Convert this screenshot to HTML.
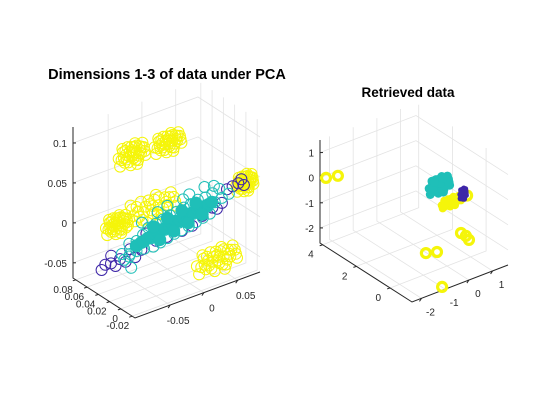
<!DOCTYPE html>
<html><head><meta charset="utf-8">
<style>
html,body{margin:0;padding:0;background:#fff;}
svg{display:block;font-family:"Liberation Sans",Arial,sans-serif;}
</style></head>
<body>
<svg id="fig" width="560" height="420" viewBox="0 0 560 420" xmlns="http://www.w3.org/2000/svg">
<rect width="560" height="420" fill="#fff"/>
<text x="167" y="79" text-anchor="middle" font-size="14.5" font-weight="bold" fill="#000">Dimensions 1-3 of data under PCA</text>
<text x="408" y="97" text-anchor="middle" font-size="13.5" font-weight="bold" fill="#000">Retrieved data</text>
<g id="left"></g>
<g id="right"></g>
</svg>
<script>
// ---- Left chart data ----
const leftXTicks = [-0.05, 0, 0.05];
const leftYTicks = [-0.02, 0, 0.02, 0.04, 0.06, 0.08];
const leftZTicks = [-0.05, 0, 0.05, 0.1];
const leftXLabels = ["-0.05", "0", "0.05"];
const leftYLabels = ["-0.02", "0", "0.02", "0.04", "0.06", "0.08"];
const leftZLabels = ["-0.05", "0", "0.05", "0.1"];
const leftCyan = [
[-0.049,0.062,-0.045],[-0.047,0.060,-0.052],[-0.042,0.057,-0.032],[-0.040,0.058,-0.046],
[-0.035,0.053,-0.035],[-0.037,0.050,-0.027],[-0.033,0.055,-0.043],
[-0.028,0.049,-0.030],[-0.030,0.047,-0.020],[-0.026,0.050,-0.040],
[-0.021,0.044,-0.026],[-0.023,0.046,-0.013],[-0.019,0.042,-0.036],
[-0.014,0.040,-0.021],[-0.016,0.041,-0.008],[-0.012,0.038,-0.031],
[-0.007,0.036,-0.016],[-0.009,0.037,-0.003],[-0.005,0.034,-0.026],
[0.000,0.032,-0.011],[-0.002,0.033,0.002],[0.002,0.030,-0.021],
[0.007,0.027,-0.007],[0.005,0.029,0.006],[0.009,0.026,-0.017],
[0.014,0.023,-0.002],[0.012,0.025,0.011],[0.016,0.021,-0.012],
[0.021,0.019,0.003],[0.019,0.021,0.015],[0.023,0.017,-0.007],
[0.028,0.015,0.008],[0.026,0.017,0.020],[0.030,0.013,-0.002],
[0.035,0.010,0.012],[0.033,0.012,0.023],[0.037,0.009,0.003],
[0.042,0.006,0.017],[0.040,0.008,0.028],[0.049,0.002,0.022],[0.047,0.004,0.033],
[0.056,-0.002,0.027],[-0.010,0.045,0.003],[0.015,0.030,0.018],[0.030,0.010,0.038],[-0.040,0.060,-0.050],
[-0.025,0.055,-0.010],[0.000,0.040,0.010],[0.020,0.025,0.025],[0.044,0.010,0.035],[-0.045,0.050,-0.058]
];
const leftCyanCore = [
[-0.035,0.053,-0.035],[-0.030,0.050,-0.031],[-0.028,0.049,-0.030],[-0.024,0.046,-0.026],[-0.021,0.044,-0.024],[-0.017,0.042,-0.021],
[-0.014,0.040,-0.019],[-0.010,0.038,-0.016],[-0.007,0.036,-0.014],[-0.003,0.034,-0.011],
[0.000,0.032,-0.009],[0.004,0.030,-0.006],[0.007,0.027,-0.005],[0.011,0.025,-0.002],
[0.014,0.023,0.000],[0.018,0.021,0.003],[0.021,0.019,0.005],[0.025,0.017,0.008],
[0.028,0.015,0.010],[0.032,0.012,0.012],[0.035,0.010,0.014],[0.039,0.008,0.017],
[-0.018,0.043,-0.012],[-0.004,0.035,-0.002],[0.010,0.026,0.007],[0.024,0.018,0.016],
[-0.012,0.039,-0.028],[0.002,0.031,-0.018],[0.016,0.022,-0.008],[0.030,0.014,0.002]
];
const leftBlue = [
[-0.060,0.068,-0.056],[-0.055,0.066,-0.060],[-0.050,0.064,-0.052],[-0.058,0.070,-0.048],
[-0.065,0.072,-0.058],[-0.045,0.060,-0.055],[-0.040,0.058,-0.040],[-0.035,0.055,-0.050],
[-0.030,0.050,-0.040],[-0.025,0.047,-0.020],[-0.015,0.042,-0.030],[-0.005,0.035,-0.025],
[0.010,0.026,-0.018],[0.020,0.020,-0.012],[0.030,0.014,0.000],[0.040,0.008,0.010],
[0.050,0.003,0.015],[0.055,0.000,0.032],[0.060,-0.004,0.036],[0.065,-0.008,0.040],
[0.070,-0.012,0.038],[0.068,-0.010,0.045],[-0.068,0.075,-0.065],[0.045,0.006,0.008]
];
const leftYellowCenters = [[-0.0605,0.03,0.097],[-0.0073,0.03,0.095],[-0.034,0.03,0.020],[-0.0828,0.03,0.016],[0.0318,-0.01,-0.045],[0.069,-0.015,0.042]];
const leftYellowSpread = [[0.022,0.015],[0.022,0.013],[0.044,0.018],[0.018,0.013],[0.033,0.016],[0.014,0.012]];
const jitterPattern = [[-0.9,0.1],[-0.6,0.5],[-0.5,-0.4],[-0.3,0.8],[-0.2,0.0],[-0.1,-0.8],[0.0,0.4],[0.1,-0.3],[0.2,0.9],[0.3,0.1],[0.4,-0.6],[0.5,0.5],[0.6,-0.1],[0.8,0.3],[0.9,-0.4],[-0.7,-0.1],[-0.4,0.2],[0.15,0.6],[0.35,-0.9],[-0.25,-0.5],[0.7,0.7],[-0.8,-0.6],[0.05,-0.05],[0.55,0.15],
[-0.65,0.8],[-0.35,-0.2],[0.25,-0.5],[0.65,0.4],[-0.05,0.7],[0.45,-0.25],[-0.55,0.0],[0.85,-0.05],[-0.15,0.35],[0.1,0.2],[-0.45,0.55],[0.3,0.65]];

// ---- Right chart data ----
const rightXTicks = [-2, -1, 0, 1];
const rightYTicks = [0, 2, 4];
const rightZTicks = [-2, -1, 0, 1];
const rightXLabels = ["-2", "-1", "0", "1"];
const rightYLabels = ["0", "2", "4"];
const rightZLabels = ["-2", "-1", "0", "1"];
const rightCyanCenter = [-0.32, 0, 0.72];
const rightCyanSpread = [0.48, 0.36];
const rightYellowBlobCenter = [0.18, 0, -0.12];
const rightYellowBlobSpread = [0.45, 0.2];
const rightBlueCenter = [0.68, 0, 0.02];
const rightBlueSpread = [0.14, 0.24];
const rightRings = [[-2.26,4,0.01],[-1.76,4,-0.09],[-0.89,0,-1.76],[-0.42,0,-1.89],[0.59,0,-1.5],[0.80,0,-1.69],[0.93,0,-1.9],[-1.06,-1.2,-2.53],[0.85,0,-0.1]];

const NS = "http://www.w3.org/2000/svg";
const BLUE = "#3e26a8", CYAN = "#1fbfb8", YEL = "#f5f50a";

function mkAxes(cfg){
  return function(x,y,z){
    const fx=(x-cfg.xr[0])/(cfg.xr[1]-cfg.xr[0]);
    const fy=(y-cfg.yr[0])/(cfg.yr[1]-cfg.yr[0]);
    const fz=(z-cfg.zr[0])/(cfg.zr[1]-cfg.zr[0]);
    return [cfg.o[0]+fx*cfg.ex[0]+fy*cfg.ey[0]+fz*cfg.ez[0],
            cfg.o[1]+fx*cfg.ex[1]+fy*cfg.ey[1]+fz*cfg.ez[1]];
  };
}
function el(g,tag,attrs){const e=document.createElementNS(NS,tag);for(const k in attrs)e.setAttribute(k,attrs[k]);g.appendChild(e);return e;}
function poly(g,pts,stroke,w,name){
  const e=el(g,"polyline",{points:pts.map(p=>p.join(",")).join(" "),fill:"none",stroke:stroke,"stroke-width":w});
  
  
  return e;
}
function drawFrame(g,cfg,P,xt,yt,zt,xl,yl,zl){
  const [x0,x1]=cfg.xr,[y0,y1]=cfg.yr,[z0,z1]=cfg.zr;
  const gc="#e3e3e3";
  xt.forEach(v=>poly(g,[P(v,y0,z0),P(v,y1,z0),P(v,y1,z1)],gc,0.8,"x-gridline"));
  yt.forEach(v=>poly(g,[P(x0,v,z0),P(x1,v,z0),P(x1,v,z1)],gc,0.8,"y-gridline"));
  zt.forEach(v=>poly(g,[P(x0,y1,v),P(x1,y1,v),P(x1,y0,v)],gc,0.8,"z-gridline"));
  poly(g,[P(x0,y1,z1),P(x0,y1,z0),P(x0,y0,z0),P(x1,y0,z0)],"#262626",1,"axis-lines");
  const ax="#262626";
  xt.forEach((v,i)=>{const p=P(v,y0,z0);
    poly(g,[p,[p[0]-2,p[1]+3]],ax,1,"x-tick");
    const t=el(g,"text",{x:p[0]+cfg.xlo[0],y:p[1]+cfg.xlo[1],"text-anchor":"middle","font-size":10,fill:ax});t.textContent=xl[i];
    
    });
  yt.forEach((v,i)=>{const p=P(x0,v,z0);
    poly(g,[p,[p[0]-3,p[1]+1]],ax,1,"y-tick");
    const t=el(g,"text",{x:p[0]+cfg.ylo[0],y:p[1]+cfg.ylo[1],"text-anchor":"end","font-size":10,fill:ax});t.textContent=yl[i];
    
    });
  zt.forEach((v,i)=>{const p=P(x0,y1,v);
    poly(g,[p,[p[0]+3,p[1]]],ax,1,"z-tick");
    const t=el(g,"text",{x:p[0]-6,y:p[1]+4,"text-anchor":"end","font-size":10,fill:ax});t.textContent=zl[i];
    
    });
}
function marker(g,p,r,stroke,fill,w,name){
  const c=el(g,"circle",{cx:p[0].toFixed(1),cy:p[1].toFixed(1),r:r,fill:fill,stroke:stroke,"stroke-width":w});
  
  
  return c;
}

// Left
const Lcfg={o:[135,318],ex:[125,-46],ey:[-62,-40],ez:[0,-151],xr:[-0.102,0.083],yr:[-0.025,0.085],zr:[-0.069,0.12],xlo:[8,19],ylo:[-3,13]};
const PL=mkAxes(Lcfg);
const gL=document.getElementById("left");
drawFrame(gL,Lcfg,PL,leftXTicks,leftYTicks,leftZTicks,leftXLabels,leftYLabels,leftZLabels);
leftYellowCenters.forEach((c,ci)=>{
  const s=leftYellowSpread[ci];
  jitterPattern.forEach(j=>marker(gL,PL(c[0]+j[0]*s[0],c[1],c[2]+j[1]*s[1]),5.5,YEL,"none",1,"yellow-point"));
});
leftBlue.forEach(d=>marker(gL,PL(d[0],d[1],d[2]),5.5,BLUE,"none",1,"blue-point"));
leftCyan.forEach(d=>marker(gL,PL(d[0],d[1],d[2]),5.5,CYAN,"none",1,"cyan-point"));
leftCyanCore.forEach(d=>marker(gL,PL(d[0],d[1],d[2]),6,CYAN,CYAN,1,"cyan-core"));

// Right
const Rcfg={o:[412,302],ex:[96,-37],ey:[-92,-59],ez:[0,-103],xr:[-2.4,1.65],yr:[-1.3,4.16],zr:[-2.6,1.5],xlo:[9,17],ylo:[-9,13]};
const PR=mkAxes(Rcfg);
const gR=document.getElementById("right");
drawFrame(gR,Rcfg,PR,rightXTicks,rightYTicks,rightZTicks,rightXLabels,rightYLabels,rightZLabels);
rightRings.forEach(d=>marker(gR,PR(d[0],d[1],d[2]),4.5,YEL,"none",3.2,"yellow-ring"));
jitterPattern.forEach(j=>marker(gR,PR(rightYellowBlobCenter[0]+j[0]*rightYellowBlobSpread[0],0,rightYellowBlobCenter[2]+j[1]*rightYellowBlobSpread[1]),4,"none",YEL,0,"yellow-blob-point"));
jitterPattern.forEach(j=>marker(gR,PR(rightCyanCenter[0]+j[0]*rightCyanSpread[0],0,rightCyanCenter[2]+j[1]*rightCyanSpread[1]),4.5,"none",CYAN,0,"cyan-blob-point"));
jitterPattern.forEach(j=>marker(gR,PR(rightBlueCenter[0]+j[0]*rightBlueSpread[0],0,rightBlueCenter[2]+j[1]*rightBlueSpread[1]),2.8,"none",BLUE,0,"blue-blob-point"));
</script>
</body></html>
